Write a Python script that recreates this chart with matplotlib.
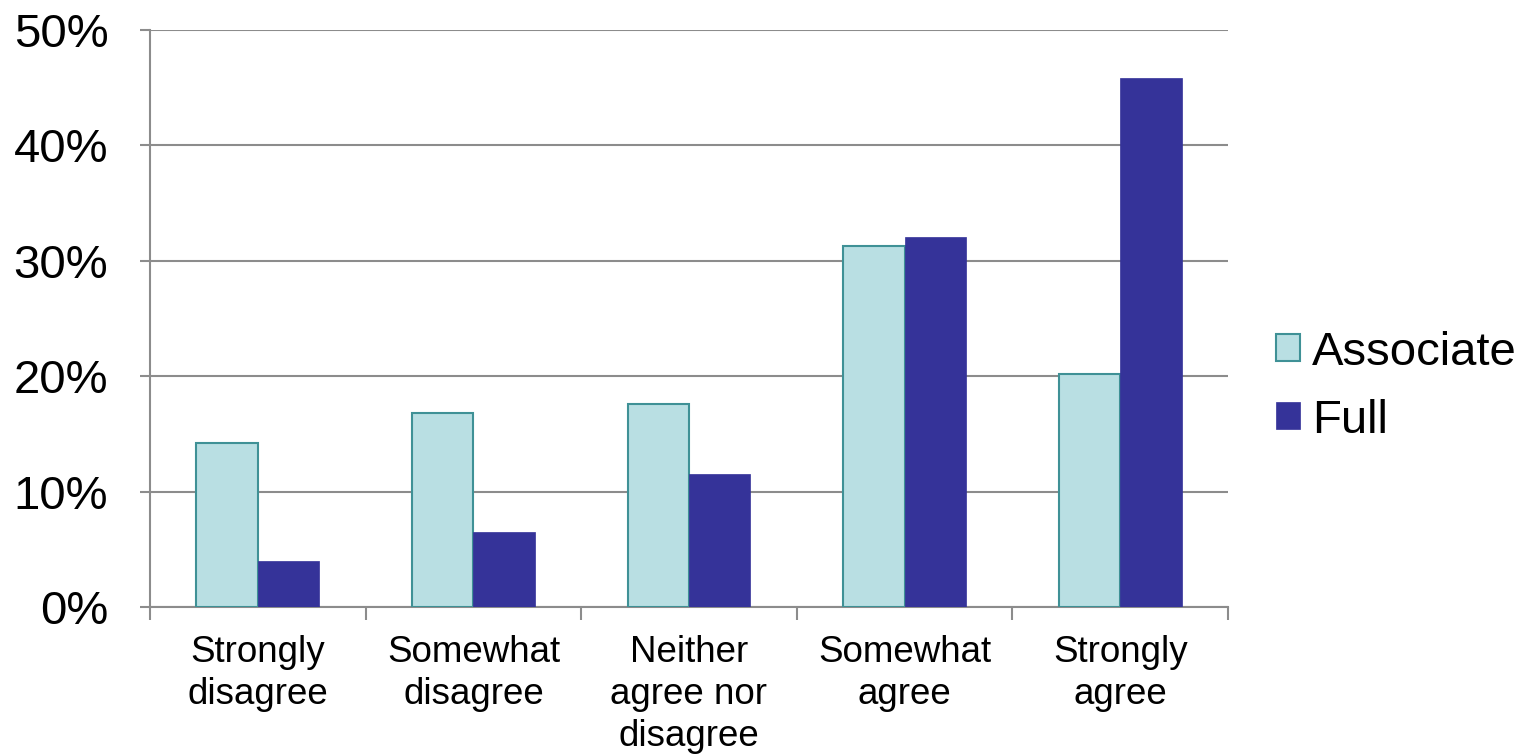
import numpy as np
import matplotlib
matplotlib.use('Agg')
import matplotlib.pyplot as plt
from matplotlib.ticker import PercentFormatter

categories = ['Strongly\ndisagree', 'Somewhat\ndisagree', 'Neither\nagree nor\ndisagree',
              'Somewhat\nagree', 'Strongly\nagree']
associate = [14.2, 16.8, 17.6, 31.3, 20.2]
full = [4.0, 6.5, 11.5, 32.1, 45.8]

plt.rcParams['font.family'] = ['Liberation Sans', 'DejaVu Sans']

fig = plt.figure(figsize=(15.26, 7.56), dpi=100)
ax = fig.add_axes([0.0983, 0.1971, 0.7064, 0.7632])

x = np.arange(len(categories))
w = 0.285
ax.bar(x - w / 2, associate, w, color='#b9dfe3', edgecolor='#3f9196', linewidth=1.5,
       label='Associate', zorder=3)
ax.bar(x + w / 2, full, w, color='#353399', edgecolor='#353399', linewidth=0.5,
       label='Full', zorder=3)

ax.set_xlim(-0.5, len(categories) - 0.5)
ax.set_ylim(0, 50)
ax.set_yticks(range(0, 51, 10))
ax.yaxis.set_major_formatter(PercentFormatter(decimals=0))
ax.grid(axis='y', color='#8c8c8c', linewidth=1.5, zorder=0)

ax.set_xticks(x)
ax.set_xticklabels(categories, fontsize=26.5, linespacing=1.27)
ax.set_xticks(np.arange(-0.5, len(categories)), minor=True)
ax.tick_params(axis='x', which='major', length=0, pad=20)
ax.tick_params(axis='x', which='minor', length=9, width=1.5, color='#8c8c8c')
ax.tick_params(axis='y', labelsize=34, length=7, width=1.5, color='#8c8c8c', pad=23)

for s in ['top', 'right']:
    ax.spines[s].set_visible(False)
for s in ['left', 'bottom']:
    ax.spines[s].set_color('#8c8c8c')
    ax.spines[s].set_linewidth(1.5)

ax.legend(loc='center left', bbox_to_anchor=(1.045, 0.382), frameon=False, fontsize=34,
          borderpad=0, borderaxespad=0,
          handlelength=0.5, handleheight=0.5, handletextpad=0.25, labelspacing=0.51)

fig.savefig('out.png', dpi=100)
